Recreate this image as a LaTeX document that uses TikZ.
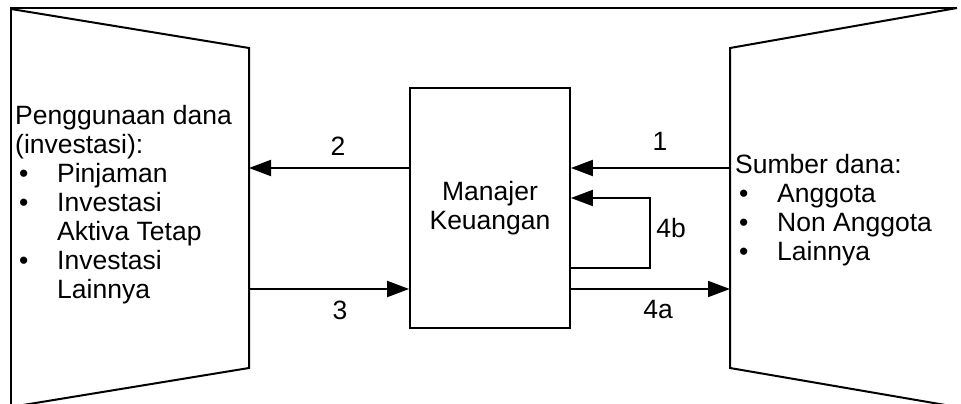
\documentclass[tikz,border=0pt]{standalone}
\usepackage{fontspec}
\setmainfont{Liberation Sans}
\usetikzlibrary{arrows.meta}

\newcommand{\itm}{\makebox[42pt][l]{\hspace{4pt}\textbullet}}

\begin{document}
\begin{tikzpicture}[x=1pt, y=-1pt,
  line/.style={line width=2pt},
  flow/.style={line width=1.9pt, -{Triangle[length=22pt, width=16pt]}},
  lbl/.style={font=\fontsize{26.5}{29}\selectfont, inner sep=0pt},
  txt/.style={font=\fontsize{26.5}{29}\selectfont, align=left, inner sep=0pt, anchor=north west}]
  \clip (0,0) rectangle (961,404);

  % Frame
  \draw[line] (11,407) -- (11,8) -- (957,8);

  % Left block: uses of funds
  \draw[line] (11,9) -- (249,48) -- (249,368) -- (11,407);
  \node[txt] (uses) at (15,105) {Penggunaan dana\\(investasi):\\\itm Pinjaman\\\itm Investasi\\\hspace{42pt}Aktiva Tetap\\\itm Investasi\\\hspace{42pt}Lainnya};

  % Right block: sources of funds
  \draw[line] (957,8) -- (730,48) -- (730,368) -- (957,407);
  \node[txt] (srcs) at (735,154) {Sumber dana:\\\itm Anggota\\\itm Non Anggota\\\itm Lainnya};

  % Manager
  \node[draw, line width=1.8pt, lbl, align=center, minimum width=160pt, minimum height=240pt] (mgr) at (490,208) {Manajer\\Keuangan};

  % Ends of the flows on the blocks
  \coordinate (use2) at (249,168);
  \coordinate (use3) at (249,289);
  \coordinate (src1) at (730,168);
  \coordinate (src4) at (730,289);
  \coordinate (loopa) at (650,268);
  \coordinate (loopb) at (650,198);

  % Flows
  \draw[flow] (src1) -- (src1 -| mgr.east);
  \draw[flow] (use2 -| mgr.west) -- (use2);
  \draw[flow] (use3) -- (use3 -| mgr.west);
  \draw[flow] (src4 -| mgr.east) -- (src4);
  \draw[flow] (loopa -| mgr.east) -- (loopa) -- (loopb) -- (loopb -| mgr.east);

  % Flow numbers
  \node[lbl] (n1) at (660,141) {1};
  \node[lbl] (n2) at (338,146) {2};
  \node[lbl] (n3) at (340,310) {3};
  \node[lbl] (n4a) at (658,310) {4a};
  \node[lbl] (n4b) at (671,228) {4b};
\end{tikzpicture}
\end{document}
